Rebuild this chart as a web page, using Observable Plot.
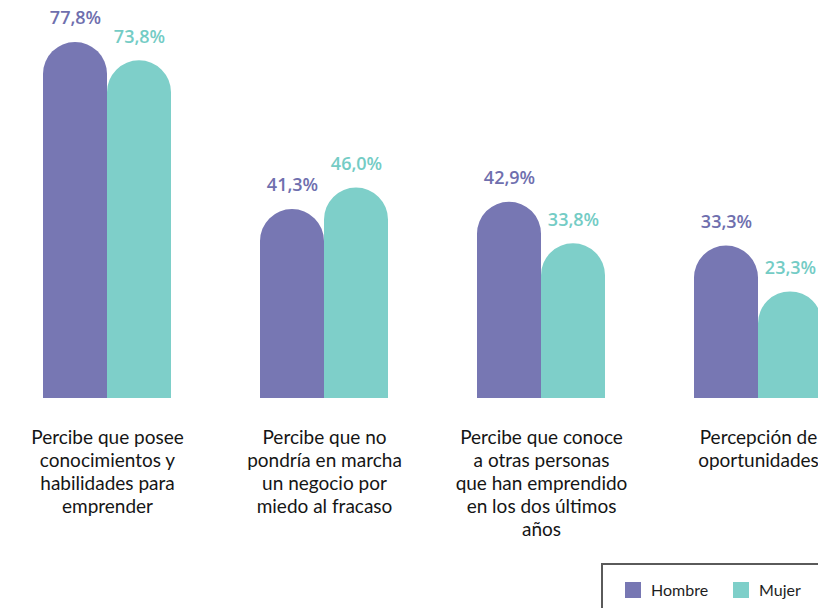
<!DOCTYPE html>
<html>
<head>
<meta charset="utf-8">
<script src="https://cdn.jsdelivr.net/npm/d3@7"></script>
<script src="https://cdn.jsdelivr.net/npm/@observablehq/plot@0.6"></script>
<style>
  html, body { margin: 0; padding: 0; background: #fff; overflow: hidden; }
  #wrap { position: relative; width: 818px; height: 608px; overflow: hidden; font-family: Lato, "Noto Sans", sans-serif; }
  #legend { position: absolute; left: 601px; top: 563px; width: 260px; height: 80px; border: 2px solid #5a5a5a; box-sizing: border-box; }
  .li { position: absolute; top: 15px; display: flex; align-items: center; font-size: 16px; color: #1e1e1e; }
  .sw { width: 16px; height: 16px; margin-right: 10px; }
</style>
</head>
<body>
<div id="wrap"><div id="chart"></div><div id="legend"></div></div>
<script>
const categories = ["A", "B", "C", "D"];
const tickLabels = [
  "Percibe que posee\nconocimientos y\nhabilidades para\nemprender",
  "Percibe que no\npondría en marcha\nun negocio por\nmiedo al fracaso",
  "Percibe que conoce\na otras personas\nque han emprendido\nen los dos últimos\naños",
  "Percepción de\noportunidades"
];
const series = ["Hombre", "Mujer"];
const hombre = [77.8, 41.3, 42.9, 33.3];
const mujer = [73.8, 46.0, 33.8, 23.3];
const colors = ["#7777b3", "#7ecfc9"];
const textColors = ["#6f6fae", "#74ccc5"];

const data = [];
categories.forEach((c, i) => {
  data.push({cat: c, sex: series[0], value: hombre[i]});
  data.push({cat: c, sex: series[1], value: mujer[i]});
});
const fmt = v => v.toFixed(1).replace(".", ",") + "%";

const H = 555;
const chart = Plot.plot({
  width: 818,
  height: H,
  marginTop: 42,
  marginBottom: H - 398,
  marginLeft: 0,
  marginRight: 0,
  style: {fontFamily: "Lato, 'Noto Sans', sans-serif", background: "white", overflow: "visible"},
  fx: {domain: categories, range: [-3, 868], paddingInner: 0.412, paddingOuter: 0.206, label: null},
  x: {domain: series, padding: 0, axis: null},
  y: {domain: [0, 77.8], axis: null},
  color: {domain: series, range: colors},
  marks: [
    Plot.barY(data, {fx: "cat", x: "sex", y: "value", fill: "sex", ry1: 32, rx: 32, inset: 0}),
    Plot.text(data, {fx: "cat", x: "sex", y: "value", text: d => fmt(d.value),
      fill: d => d.sex === series[0] ? textColors[0] : textColors[1],
      dy: -24, fontSize: 18, fontWeight: 600, fontFamily: "'Open Sans', Lato, sans-serif", textAnchor: "middle"}),
    Plot.axisFx({anchor: "bottom", tickSize: 0, tickPadding: 29, fontSize: 19, lineHeight: 1.21,
      tickFormat: c => tickLabels[categories.indexOf(c)], fill: "#151515", label: null})
  ]
});
document.getElementById("chart").appendChild(chart);

const legend = document.getElementById("legend");
const lx = [22, 130];
series.forEach((s, i) => {
  const item = document.createElement("div");
  item.className = "li";
  item.style.left = lx[i] + "px";
  item.innerHTML = `<div class="sw" style="background:${colors[i]}"></div><span>${s}</span>`;
  legend.appendChild(item);
});
</script>
</body>
</html>
